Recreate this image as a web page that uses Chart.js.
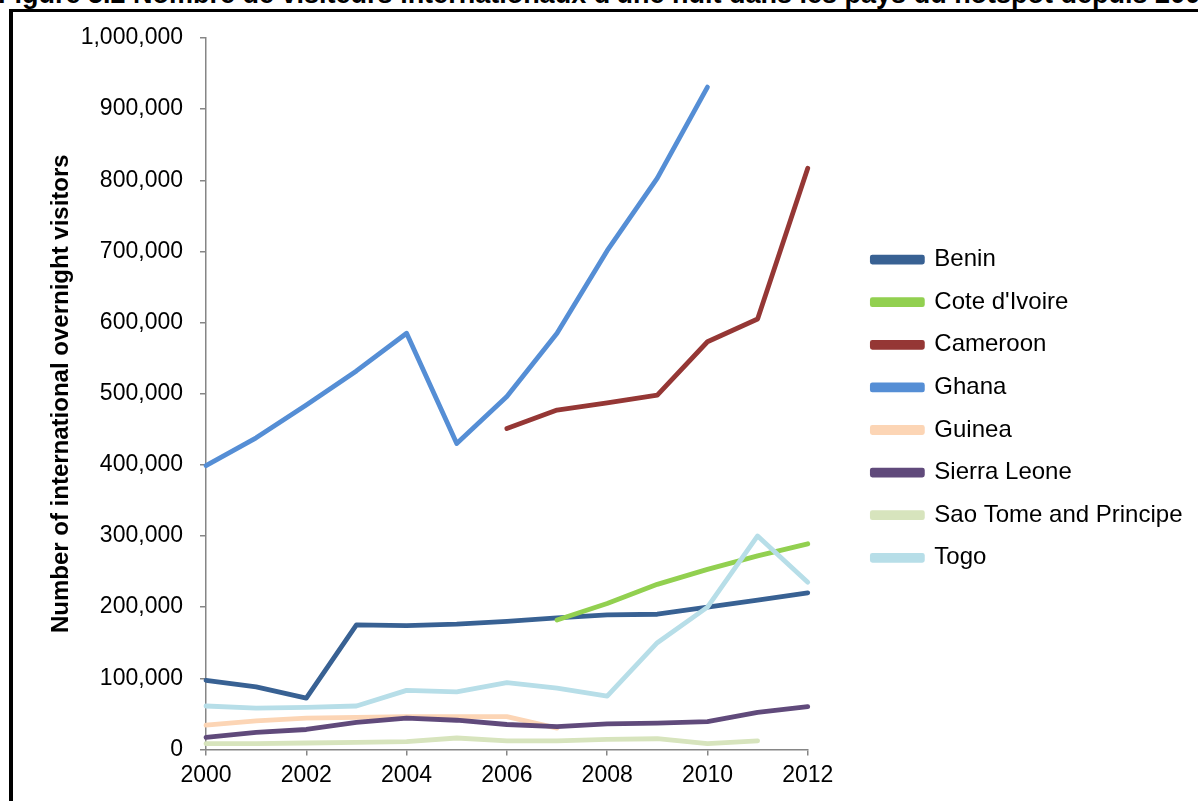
<!DOCTYPE html>
<html>
<head>
<meta charset="utf-8">
<script src="https://cdn.jsdelivr.net/npm/chart.js@4/dist/chart.umd.min.js"></script>
<style>
  html, body { margin: 0; padding: 0; background: #fff; overflow: hidden; }
  #wrap { position: relative; width: 1198px; height: 801px; overflow: hidden; }
  #title {
    position: absolute; left: -2px; top: -22px; white-space: nowrap;
    font: bold 27px "Liberation Sans", Arial, sans-serif; color: #000; line-height: 32px;
  }
  #frame {
    position: absolute; left: 9px; top: 9px; right: -10px; bottom: -10px;
    border-left: 4px solid #000; border-top: 3px solid #000;
  }
  #chart { position: absolute; left: 0; top: 0; }
</style>
</head>
<body>
<div id="wrap">
  <div id="title">Figure 5.2 Nombre de visiteurs internationaux d'une nuit dans les pays du hotspot depuis 2000</div>
  <div id="frame"></div>
  <canvas id="chart" width="1198" height="801"></canvas>
</div>
<script>
// years on the x axis
const years = [2000, 2001, 2002, 2003, 2004, 2005, 2006, 2007, 2008, 2009, 2010, 2011, 2012];

// international overnight visitors (null = no data)
const benin      = [97000, 88000, 72000, 175000, 174000, 176000, 180000, 185000, 189000, 190000, 200000, 210000, 220000];
const coteIvoire = [null, null, null, null, null, null, null, 182000, 205000, 232000, 253000, 272000, 289000];
const cameroon   = [null, null, null, null, null, null, 451000, 477000, 487000, 498000, 573000, 605000, 817000];
const ghana      = [399000, 438000, 484000, 532000, 585000, 430000, 496000, 585000, 701000, 803000, 931000, null, null];
const guinea     = [34000, 40000, 44000, 45000, 46000, 46000, 46000, 30000, null, null, null, null, null];
const sierraLeone = [17000, 24000, 28000, 38000, 44000, 41000, 35000, 32000, 36000, 37000, 39000, 52000, 60000];
const saoTome    = [8000, 8000, 9000, 10000, 11000, 16000, 12000, 12000, 14000, 15000, 8000, 12000, null];
const togo       = [61000, 58000, 59000, 61000, 83000, 81000, 94000, 86000, 75000, 150000, 200000, 300000, 235000];

const seriesNames = ["Benin", "Cote d'Ivoire", "Cameroon", "Ghana", "Guinea", "Sierra Leone", "Sao Tome and Principe", "Togo"];
const seriesValues = [benin, coteIvoire, cameroon, ghana, guinea, sierraLeone, saoTome, togo];
const seriesColors = ["#386193", "#92D050", "#953735", "#558ED5", "#FCD5B5", "#604A7B", "#D7E4BD", "#B7DEE8"];

const yTicks = [0, 100000, 200000, 300000, 400000, 500000, 600000, 700000, 800000, 900000, 1000000];

const AXIS = "#868686";
const FONT = "'Liberation Sans', Arial, sans-serif";

const datasets = seriesNames.map((name, i) => ({
  label: name,
  data: years.map((yr, j) => ({ x: yr, y: seriesValues[i][j] })),
  borderColor: seriesColors[i],
  backgroundColor: seriesColors[i],
  borderWidth: 4.8,
  borderCapStyle: "round",
  borderJoinStyle: "round",
  pointRadius: 0,
  tension: 0,
  spanGaps: false,
  clip: 6,
  // later series are drawn on top, as in the original
  order: seriesNames.length - i,
}));

// nudge the legend block to where the original sits, and let it use the free space on the right
const legendShift = {
  id: "legendShift",
  afterLayout(chart) {
    const lg = chart.legend;
    if (!lg) return;
    lg.left = chart.chartArea.right + 46;
    lg.right = chart.width;
    lg.width = lg.right - lg.left;
    lg.top += 15; lg.bottom += 15;
  },
};

new Chart(document.getElementById("chart"), {
  type: "line",
  data: { datasets },
  options: {
    responsive: false,
    animation: false,
    layout: { padding: { left: 0, top: 38, right: 121, bottom: 6 } },
    plugins: {
      title: { display: false },
      tooltip: { enabled: false },
      legend: {
        position: "right",
        fullSize: false,
        labels: {
          color: "#000",
          font: { family: FONT, size: 24 },
          boxWidth: 50,
          boxHeight: 5,
          padding: 18.6,
          sort: (a, b) => a.datasetIndex - b.datasetIndex,
        },
      },
    },
    scales: {
      x: {
        type: "linear",
        min: 2000,
        max: 2012,
        border: { color: AXIS, width: 1.5 },
        grid: { drawOnChartArea: false, drawTicks: true, tickLength: 6, color: AXIS, lineWidth: 1.5 },
        ticks: {
          stepSize: 2,
          color: "#000",
          font: { family: FONT, size: 23 },
          padding: 6,
          maxRotation: 0,
          callback: (v) => String(v),
        },
      },
      y: {
        min: 0,
        max: 1000000,
        afterFit(scale) { scale.width = 206; },
        afterBuildTicks(scale) { scale.ticks = yTicks.map((v) => ({ value: v })); },
        border: { color: AXIS, width: 1.5 },
        grid: { drawOnChartArea: false, drawTicks: true, tickLength: 6, color: AXIS, lineWidth: 1.5 },
        ticks: {
          color: "#000",
          font: { family: FONT, size: 23 },
          padding: 17,
          callback: (v) => v.toLocaleString("en-US"),
        },
        title: {
          display: true,
          text: "Number of international overnight visitors",
          color: "#000",
          font: { family: FONT, size: 24, weight: "bold" },
          padding: { top: 47, bottom: 0 },
        },
      },
    },
  },
  plugins: [legendShift],
});
</script>
</body>
</html>
